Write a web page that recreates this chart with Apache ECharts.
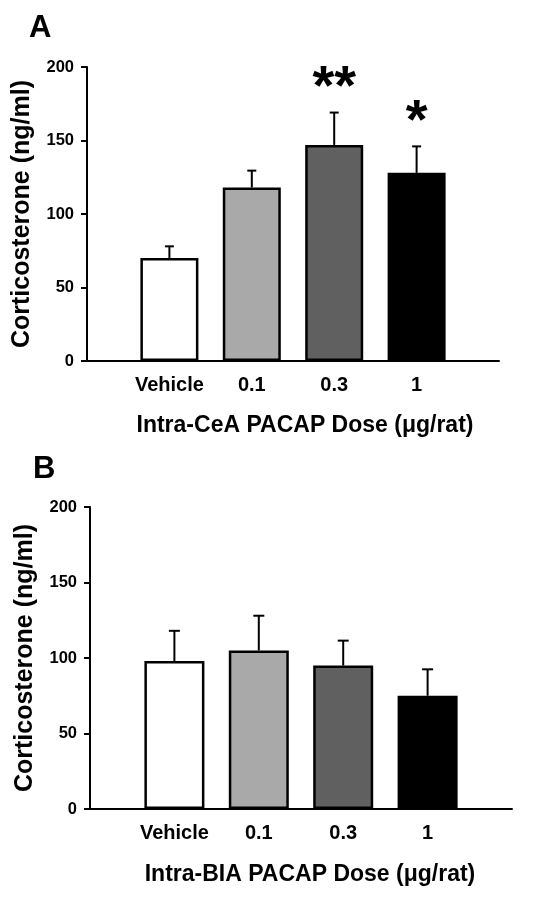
<!DOCTYPE html>
<html>
<head>
<meta charset="utf-8">
<script src="https://cdn.jsdelivr.net/npm/echarts@6/dist/echarts.min.js"></script>
<style>
html,body{margin:0;padding:0;background:#fff;}
#chart{width:533px;height:897px;}
</style>
</head>
<body>
<div id="chart"></div>
<script>
// ---- data ----
var categories = ['Vehicle', '0.1', '0.3', '1'];
var meanA = [70, 118, 147, 128];
var semA  = [8, 11.5, 22, 18];
var starsA = ['', '', '**', '*'];
var meanB = [98, 105, 95, 75];
var semB  = [20, 23, 16.5, 17.5];
var yTicks = [0, 50, 100, 150, 200];
var barColors = ['#ffffff', '#a9a9a9', '#606060', '#000000'];

var FONT = '"Liberation Sans", Arial, sans-serif';
var axisCats = [''].concat(categories).concat(['']);

function pad(arr) { return ['-'].concat(arr).concat(['-']); }

function barData(means) {
  return pad(means.map(function (v, i) {
    return { value: v, itemStyle: { color: barColors[i] } };
  }));
}

function errData(means, sems, stars) {
  return means.map(function (v, i) {
    return [i + 1, v, sems[i], stars ? stars[i] : ''];
  });
}

function errRender(capW) {
  return function (params, api) {
    var x = api.value(0), m = api.value(1), s = api.value(2);
    var star = api.value(3);
    var p0 = api.coord([x, m]);
    var p1 = api.coord([x, m + s]);
    var stroke = { stroke: '#000', lineWidth: 2 };
    var children = [
      { type: 'line', shape: { x1: p0[0], y1: p0[1], x2: p1[0], y2: p1[1] }, style: stroke },
      { type: 'line', shape: { x1: p1[0] - capW / 2, y1: p1[1], x2: p1[0] + capW / 2, y2: p1[1] }, style: stroke }
    ];
    if (star && star !== '-' && star !== '') {
      children.push({
        type: 'text',
        style: {
          text: String(star), x: p1[0], y: p1[1] - 24,
          align: 'center', verticalAlign: 'middle',
          fontSize: 56, fontWeight: 'bold', fontFamily: FONT, fill: '#000'
        }
      });
    }
    return { type: 'group', children: children };
  };
}

function xAxisCfg(gridIndex, name, gap, shift) {
  return {
    type: 'category', gridIndex: gridIndex, data: axisCats, boundaryGap: false,
    axisLine: { lineStyle: { color: '#000', width: 2 } },
    axisTick: { show: false },
    axisLabel: { interval: 0, margin: 14, color: '#000', fontSize: 20, fontWeight: 'bold', fontFamily: FONT },
    splitLine: { show: false },
    name: name, nameLocation: 'middle', nameGap: gap,
    nameTextStyle: { color: '#000', fontSize: 23, fontWeight: 'bold', fontFamily: FONT, padding: [0, 0, 0, shift * 2] }
  };
}

function yAxisCfg(gridIndex) {
  return {
    type: 'value', gridIndex: gridIndex, min: yTicks[0], max: yTicks[yTicks.length - 1], interval: yTicks[1] - yTicks[0],
    axisLine: { show: true, lineStyle: { color: '#000', width: 2 } },
    axisTick: { show: true, length: 6, lineStyle: { color: '#000', width: 2 } },
    axisLabel: { margin: 13, color: '#000', fontSize: 16.5, fontWeight: 'bold', fontFamily: FONT },
    splitLine: { show: false },
    name: 'Corticosterone (ng/ml)', nameLocation: 'middle', nameGap: 52, nameRotate: 90,
    nameTextStyle: { color: '#000', fontSize: 25, fontWeight: 'bold', fontFamily: FONT }
  };
}

var chart = echarts.init(document.getElementById('chart'), null, { renderer: 'canvas' });
chart.setOption({
  backgroundColor: '#fff',
  animation: false,
  title: [
    { text: 'A', left: 29, top: 13, padding: 0, textStyle: { fontSize: 31, fontWeight: 'bold', fontFamily: FONT, color: '#000' } },
    { text: 'B', left: 33, top: 454, padding: 0, textStyle: { fontSize: 31, fontWeight: 'bold', fontFamily: FONT, color: '#000' } }
  ],
  grid: [
    { left: 87, top: 67, width: 412, height: 294 },
    { left: 90, top: 507, width: 422, height: 302 }
  ],
  xAxis: [
    xAxisCfg(0, 'Intra-CeA PACAP Dose (\u03bcg/rat)', 53, 12),
    xAxisCfg(1, 'Intra-BIA PACAP Dose (\u03bcg/rat)', 54.5, 9)
  ],
  yAxis: [yAxisCfg(0), yAxisCfg(1)],
  series: [
    { type: 'bar', xAxisIndex: 0, yAxisIndex: 0, barWidth: 58, data: barData(meanA),
      itemStyle: { borderColor: '#000', borderWidth: 2.5 }, z: 2 },
    { type: 'custom', xAxisIndex: 0, yAxisIndex: 0, renderItem: errRender(9), data: errData(meanA, semA, starsA), z: 3 },
    { type: 'bar', xAxisIndex: 1, yAxisIndex: 1, barWidth: 60, data: barData(meanB),
      itemStyle: { borderColor: '#000', borderWidth: 2.5 }, z: 2 },
    { type: 'custom', xAxisIndex: 1, yAxisIndex: 1, renderItem: errRender(11), data: errData(meanB, semB, null), z: 3 }
  ]
});
</script>
</body>
</html>
